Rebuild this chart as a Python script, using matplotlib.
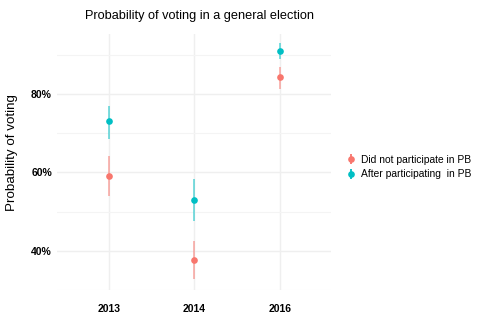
import numpy as np
import matplotlib.pyplot as plt
from matplotlib.ticker import FixedLocator, FuncFormatter

plt.rcParams['font.family'] = ['Liberation Sans', 'DejaVu Sans']

years = ['2013', '2014', '2016']
groups = ['Did not participate in PB', 'After participating  in PB']
colors = ['#F8766D', '#00BFC4']

# probability of voting (%), with lower / upper bounds
did_not_mean = [59.1, 37.6, 84.4]
did_not_low = [54.0, 32.8, 81.3]
did_not_high = [64.1, 42.6, 87.0]

after_mean = [73.0, 52.9, 91.0]
after_low = [68.6, 47.7, 89.0]
after_high = [76.9, 58.2, 92.9]

means = [did_not_mean, after_mean]
lows = [did_not_low, after_low]
highs = [did_not_high, after_high]

fig = plt.figure(figsize=(4.89, 3.33), dpi=100)
ax = fig.add_axes([57.5 / 489, 1 - 290 / 333, 274 / 489, 256 / 333])

x = np.arange(1, len(years) + 1)
for g in range(len(groups)):
    m = np.array(means[g])
    lo = m - np.array(lows[g])
    hi = np.array(highs[g]) - m
    ax.errorbar(x, m, yerr=[lo, hi], fmt='none', ecolor=colors[g], alpha=0.55,
                elinewidth=1.3, capsize=0, zorder=2)
    ax.plot(x, m, 'o', color=colors[g], markersize=4.8,
            markeredgewidth=0, zorder=3)
    # legend handle: point with vertical line
    ax.errorbar([], [], yerr=[[], []], fmt='o', color=colors[g], ecolor=colors[g],
                markersize=4.8, markeredgewidth=0, elinewidth=1.3, capsize=0,
                label=groups[g])

ax.set_xlim(0.4, 3.6)
ax.set_ylim(30.0, 95.3)
ax.xaxis.set_major_locator(FixedLocator(x))
ax.set_xticklabels(years)
ax.yaxis.set_major_locator(FixedLocator([40, 60, 80]))
ax.yaxis.set_minor_locator(FixedLocator([30, 50, 70, 90]))
ax.yaxis.set_major_formatter(FuncFormatter(lambda v, p: f'{v:.0f}%'))

ax.grid(True, which='major', color='#EFEFEF', linewidth=1.0)
ax.grid(True, which='minor', axis='y', color='#F4F4F4', linewidth=0.8)
ax.set_axisbelow(True)
for s in ax.spines.values():
    s.set_visible(False)
ax.tick_params(which='both', length=0)
ax.tick_params(axis='x', pad=10, labelsize=7.5)
ax.tick_params(axis='y', pad=4, labelsize=7.5)
for lab in ax.get_xticklabels() + ax.get_yticklabels():
    lab.set_fontweight('bold')

ax.set_ylabel('Probability of voting', fontsize=9.6)
ax.yaxis.set_label_coords(-0.144, 0.535)
ax.set_title('Probability of voting in a general election', fontsize=9.2,
             pad=11, x=0.52)

leg = ax.legend(loc='center left', bbox_to_anchor=(1.02, 0.48), frameon=False,
                fontsize=7.4, handlelength=1.0, handletextpad=0.4,
                labelspacing=0.45)

fig.savefig('out.png', dpi=100)
